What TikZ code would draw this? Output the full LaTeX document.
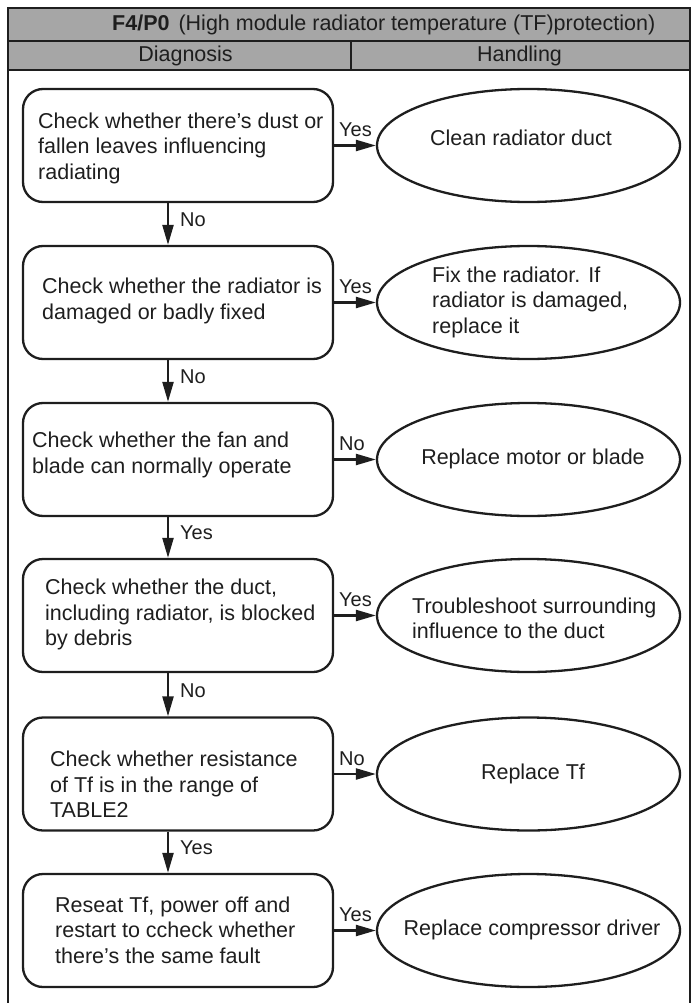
\documentclass[tikz,border=0pt]{standalone}
\usepackage{fontspec}
\setmainfont{Liberation Sans}
\usetikzlibrary{shapes.geometric,arrows.meta}
\definecolor{hdrgray}{RGB}{166,166,166}
\definecolor{ink}{RGB}{30,30,30}
\tikzset{
  stepbox/.style={draw=ink, line width=2.3pt, rounded corners=20pt, minimum width=310pt, minimum height=113pt, inner sep=0pt},
  endell/.style={draw=ink, ellipse, line width=2.3pt, minimum width=303pt, minimum height=113pt, inner sep=0pt},
  txt/.style={font=\fontsize{21.5}{25.5}\selectfont, text=ink, align=left, inner sep=0pt},
  lbl/.style={font=\fontsize{20}{20}\selectfont, text=ink, inner sep=0pt, anchor=west},
  arr/.style={draw=ink, line width=2.3pt, -{Triangle[length=20pt,width=11pt]}},
  frame/.style={draw=ink, line width=2.3pt}
}
\begin{document}
\begin{tikzpicture}[x=1pt,y=-1pt]
\useasboundingbox (0,0) rectangle (697,1003);
% header
\fill[hdrgray] (8,8) rectangle (690,70);
\draw[frame] (8,1003) -- (8,8) -- (690,8) -- (690,1003);
\draw[frame] (8,41) -- (690,41);
\draw[frame] (8,70) -- (690,70);
\draw[frame] (351,41) -- (351,70);
\node[txt, anchor=west] (title) at (112,25) {\textbf{F4/P0}\hspace{9pt}(High module radiator temperature (TF)protection)};
\node[txt] (diag) at (185.5,56) {Diagnosis};
\node[txt] (hand) at (519.5,56) {Handling};
% boxes
\node[stepbox] (b1) at (178,145.5) {};
\node[stepbox] (b2) at (178,302.5) {};
\node[stepbox] (b3) at (178,459.5) {};
\node[stepbox] (b4) at (178,615.5) {};
\node[stepbox] (b5) at (178,774) {};
\node[stepbox] (b6) at (178,930.5) {};
% ellipses
\node[endell] (e1) at (528.5,145.5) {};
\node[endell] (e2) at (528.5,302.5) {};
\node[endell] (e3) at (528.5,459.5) {};
\node[endell] (e4) at (528.5,615.5) {};
\node[endell] (e5) at (528.5,774) {};
\node[endell] (e6) at (528.5,930.5) {};
% box texts
\node[txt, anchor=west] (t1) at (38,148) {Check whether there’s dust or\\fallen leaves influencing\\radiating};
\node[txt, anchor=west] (t2) at (42,301) {Check whether the radiator is\\damaged or badly fixed};
\node[txt, anchor=west] (t3) at (32,455) {Check whether the fan and\\blade can normally operate};
\node[txt, anchor=west] (t4) at (45,614.5) {Check whether the duct,\\including radiator, is blocked\\by debris};
\node[txt, anchor=west] (t5) at (50,784.5) {Check whether resistance\\of Tf is in the range of\\TABLE2};
\node[txt, anchor=west] (t6) at (55,930) {Reseat Tf, power off and\\restart to ccheck whether\\there’s the same fault};
% ellipse texts
\node[txt] (h1) at (521,138) {Clean radiator duct};
\node[txt, anchor=west] (h2) at (432,302) {Fix the radiator. If\\radiator is damaged,\\replace it};
\node[txt] (h3) at (533,459) {Replace motor or blade};
\node[txt, anchor=west] (h4) at (412,618.5) {Troubleshoot surrounding\\influence to the duct};
\node[txt] (h5) at (533,774) {Replace Tf};
\node[txt] (h6) at (532,930) {Replace compressor driver};
% horizontal arrows
\draw[arr] (b1.east) -- (e1.west);
\draw[arr] (b2.east) -- (e2.west);
\draw[arr] (b3.east) -- (e3.west);
\draw[arr] (b4.east) -- (e4.west);
\draw[arr] (b5.east) -- (e5.west);
\draw[arr] (b6.east) -- (e6.west);
\node[lbl] (y1) at (339,130) {Yes};
\node[lbl] (y2) at (339,287) {Yes};
\node[lbl] (n3) at (339,444) {No};
\node[lbl] (y4) at (339,600) {Yes};
\node[lbl] (n5) at (339,759) {No};
\node[lbl] (y6) at (339,915) {Yes};
% vertical arrows
\coordinate (ax) at (168,0);
\draw[arr] (b1.south -| ax) -- (b2.north -| ax);
\draw[arr] (b2.south -| ax) -- (b3.north -| ax);
\draw[arr] (b3.south -| ax) -- (b4.north -| ax);
\draw[arr] (b4.south -| ax) -- (b5.north -| ax);
\draw[arr] (b5.south -| ax) -- (b6.north -| ax);
\node[lbl] (v1) at (180,220) {No};
\node[lbl] (v2) at (180,377) {No};
\node[lbl] (v3) at (180,533) {Yes};
\node[lbl] (v4) at (180,691) {No};
\node[lbl] (v5) at (180,848) {Yes};
\end{tikzpicture}
\end{document}
